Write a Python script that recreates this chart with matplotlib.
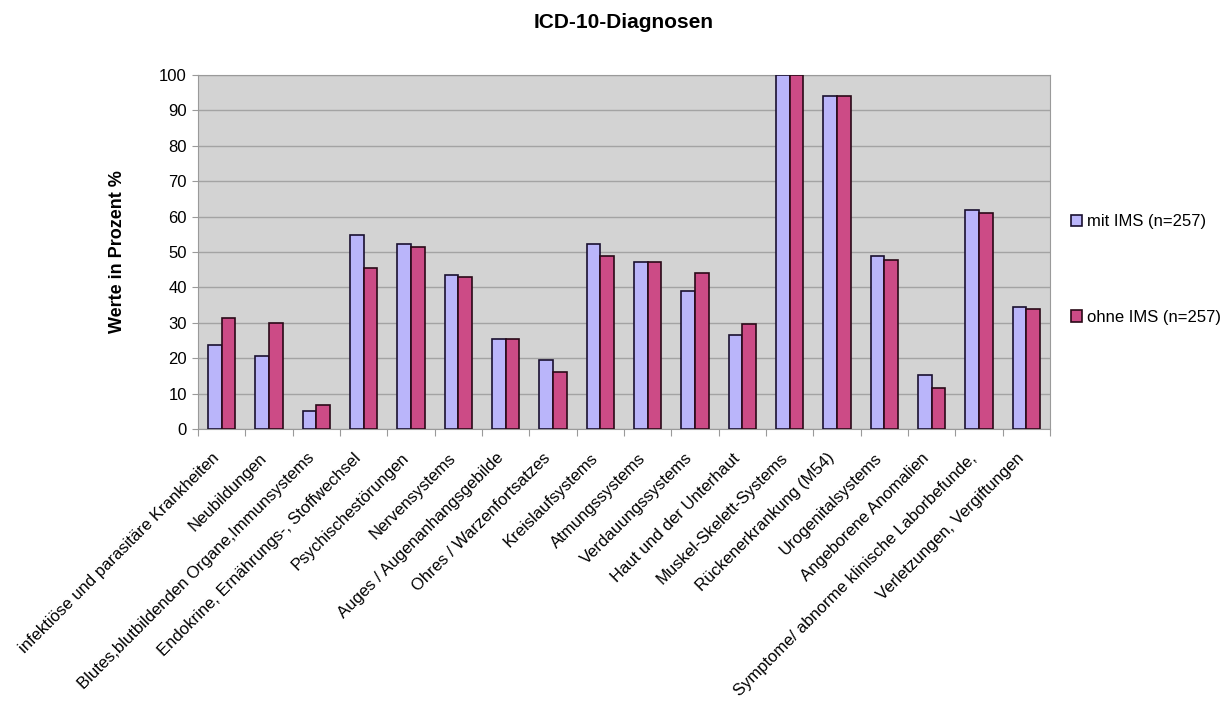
import matplotlib
matplotlib.use("Agg")
import matplotlib.pyplot as plt
import matplotlib.transforms as mtransforms
import numpy as np
from matplotlib.patches import Patch

plt.rcParams['font.family'] = ['Liberation Sans', 'DejaVu Sans']

categories = [
    "infektiöse und parasitäre Krankheiten",
    "Neubildungen",
    "Blutes,blutbildenden Organe,Immunsystems",
    "Endokrine, Ernährungs-, Stoffwechsel",
    "Psychischestörungen",
    "Nervensystems",
    "Auges / Augenanhangsgebilde",
    "Ohres / Warzenfortsatzes",
    "Kreislaufsystems",
    "Atmungssystems",
    "Verdauungssystems",
    "Haut und der Unterhaut",
    "Muskel-Skelett-Systems",
    "Rückenerkrankung (M54)",
    "Urogenitalsystems",
    "Angeborene Anomalien",
    "Symptome/ abnorme klinische Laborbefunde,",
    "Verletzungen, Vergiftungen",
]
mit_ims = [23.7, 20.6, 5.1, 54.8, 52.4, 43.5, 25.3, 19.5, 52.2, 47.1,
           39.0, 26.5, 100.0, 94.1, 48.9, 15.3, 61.8, 34.6]
ohne_ims = [31.4, 29.9, 6.7, 45.4, 51.3, 43.0, 25.3, 16.0, 48.9, 47.1,
            44.0, 29.6, 100.0, 94.1, 47.7, 11.7, 60.9, 33.9]
series_labels = ["mit IMS (n=257)", "ohne IMS (n=257)"]
yticks = list(range(0, 101, 10))

c_mit = "#bab5fa"
c_ohne = "#cc4b86"
bg = "#d3d3d3"
edge_mit = "#1a1030"
edge_ohne = "#2a0a18"

fig = plt.figure(figsize=(12.3, 7.09), dpi=100)
ax = fig.add_axes([198 / 1230, 1 - 429 / 709, (1050 - 198) / 1230, (429 - 75) / 709])
ax.set_facecolor(bg)

x = np.arange(len(categories))
w = 0.29
ax.bar(x - w / 2, mit_ims, w, color=c_mit, edgecolor=edge_mit, linewidth=1.2, zorder=3)
ax.bar(x + w / 2, ohne_ims, w, color=c_ohne, edgecolor=edge_ohne, linewidth=1.2, zorder=3)

ax.set_xlim(-0.5, len(categories) - 0.5)
ax.set_ylim(0, 100)
ax.set_yticks(yticks)
ax.set_yticklabels([str(t) for t in yticks], fontsize=12)
ax.yaxis.grid(True, color="#a3a3a3", linewidth=1.0, zorder=0)
ax.set_axisbelow(True)
for s in ["top", "right", "left", "bottom"]:
    ax.spines[s].set_color("#9a9a9a")
ax.tick_params(axis="y", length=4, color="#9a9a9a", pad=4)

# category boundary ticks on the x axis
ax.set_xticks(np.arange(len(categories) + 1) - 0.5, minor=False)
ax.set_xticklabels([])
ax.tick_params(axis="x", length=5, color="#9a9a9a")

# slanted category names, shifted a little left of each group centre
ax.set_xticks(x, minor=True)
labels = ax.set_xticklabels(categories, minor=True, rotation=45, ha="right",
                            rotation_mode="anchor", fontsize=12)
ax.tick_params(axis="x", which="minor", length=0, pad=14)
shift = mtransforms.ScaledTranslation(-0.10, -0.02, fig.dpi_scale_trans)
for lab in labels:
    lab.set_transform(lab.get_transform() + shift)

ax.set_ylabel("Werte in Prozent %", fontsize=13, fontweight="bold", labelpad=24)
fig.text(624 / 1230, 1 - 22 / 709, "ICD-10-Diagnosen", ha="center", va="center",
         fontsize=15, fontweight="bold")

handles = [Patch(facecolor=c_mit, edgecolor=edge_mit, linewidth=1.2),
           Patch(facecolor=c_ohne, edgecolor=edge_ohne, linewidth=1.2)]
fig.legend(handles, series_labels, loc="upper left",
           bbox_to_anchor=(1071 / 1230, 1 - 214 / 709), frameon=False,
           fontsize=12, handlelength=0.65, handleheight=0.65,
           handletextpad=0.3, labelspacing=4.85, borderaxespad=0, borderpad=0)

fig.savefig("out.png", dpi=100, facecolor="white")
